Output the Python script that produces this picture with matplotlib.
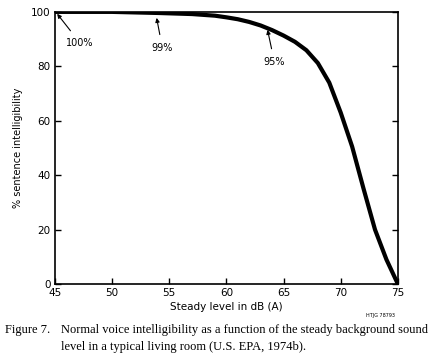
import matplotlib
matplotlib.use("Agg")
import matplotlib.pyplot as plt

# steady background level dB(A) vs % sentence intelligibility
level_db = [45, 50, 54, 57, 59, 60, 61, 62, 63, 64, 65, 66, 67, 68, 69, 70, 71, 72, 73, 74, 75]
intelligibility = [100, 100, 99.6, 99.2, 98.6, 98.0, 97.3, 96.3, 95.0, 93.3, 91.3, 89.0,
                   85.9, 81.2, 74, 63, 50.5, 35, 20, 9, 0]

x_ticks = [45, 50, 55, 60, 65, 70, 75]
y_ticks = [0, 20, 40, 60, 80, 100]

# annotations: label, arrow tip, text position
notes = [
    ("100%", (45.2, 99.3), (47.2, 88.6)),
    ("99%", (53.9, 97.8), (54.4, 86.8)),
    ("95%", (63.6, 93.4), (64.2, 81.6)),
]

fig = plt.figure(figsize=(4.32, 3.6), dpi=100)
fig.patch.set_facecolor("white")
ax = fig.add_axes([0.127, 0.211, 0.794, 0.756])

ax.plot(level_db, intelligibility, color="black", lw=3.0,
        solid_capstyle="round", solid_joinstyle="round")

ax.set_xlim(45, 75)
ax.set_ylim(0, 100)
ax.set_xticks(x_ticks)
ax.set_yticks(y_ticks)
ax.tick_params(direction="in", length=4, width=1, labelsize=7.5, pad=3,
               right=True, colors="black")
for s in ax.spines.values():
    s.set_linewidth(1.2)

ax.set_xlabel("Steady level in dB (A)", fontsize=7.5, labelpad=3)
ax.set_ylabel("% sentence intelligibility", fontsize=7, labelpad=6)

for label, tip, txt in notes:
    ax.annotate(label, xy=tip, xytext=txt, fontsize=7, ha="center", va="center",
                arrowprops=dict(arrowstyle="-|>", color="black", lw=0.8,
                                mutation_scale=6, shrinkA=4, shrinkB=0))

fig.text(0.848, 0.125, "HTJG 78793", fontsize=3.5, ha="left", va="center")

fig.text(0.012, 0.083, "Figure 7.", fontsize=9, family="Liberation Serif",
         ha="left", va="center")
fig.text(0.141, 0.083,
         "Normal voice intelligibility as a function of the steady background sound",
         fontsize=9, family="Liberation Serif", ha="left", va="center")
fig.text(0.141, 0.036, "level in a typical living room (U.S. EPA, 1974b).",
         fontsize=9, family="Liberation Serif", ha="left", va="center")

fig.savefig("out.png", dpi=100)
